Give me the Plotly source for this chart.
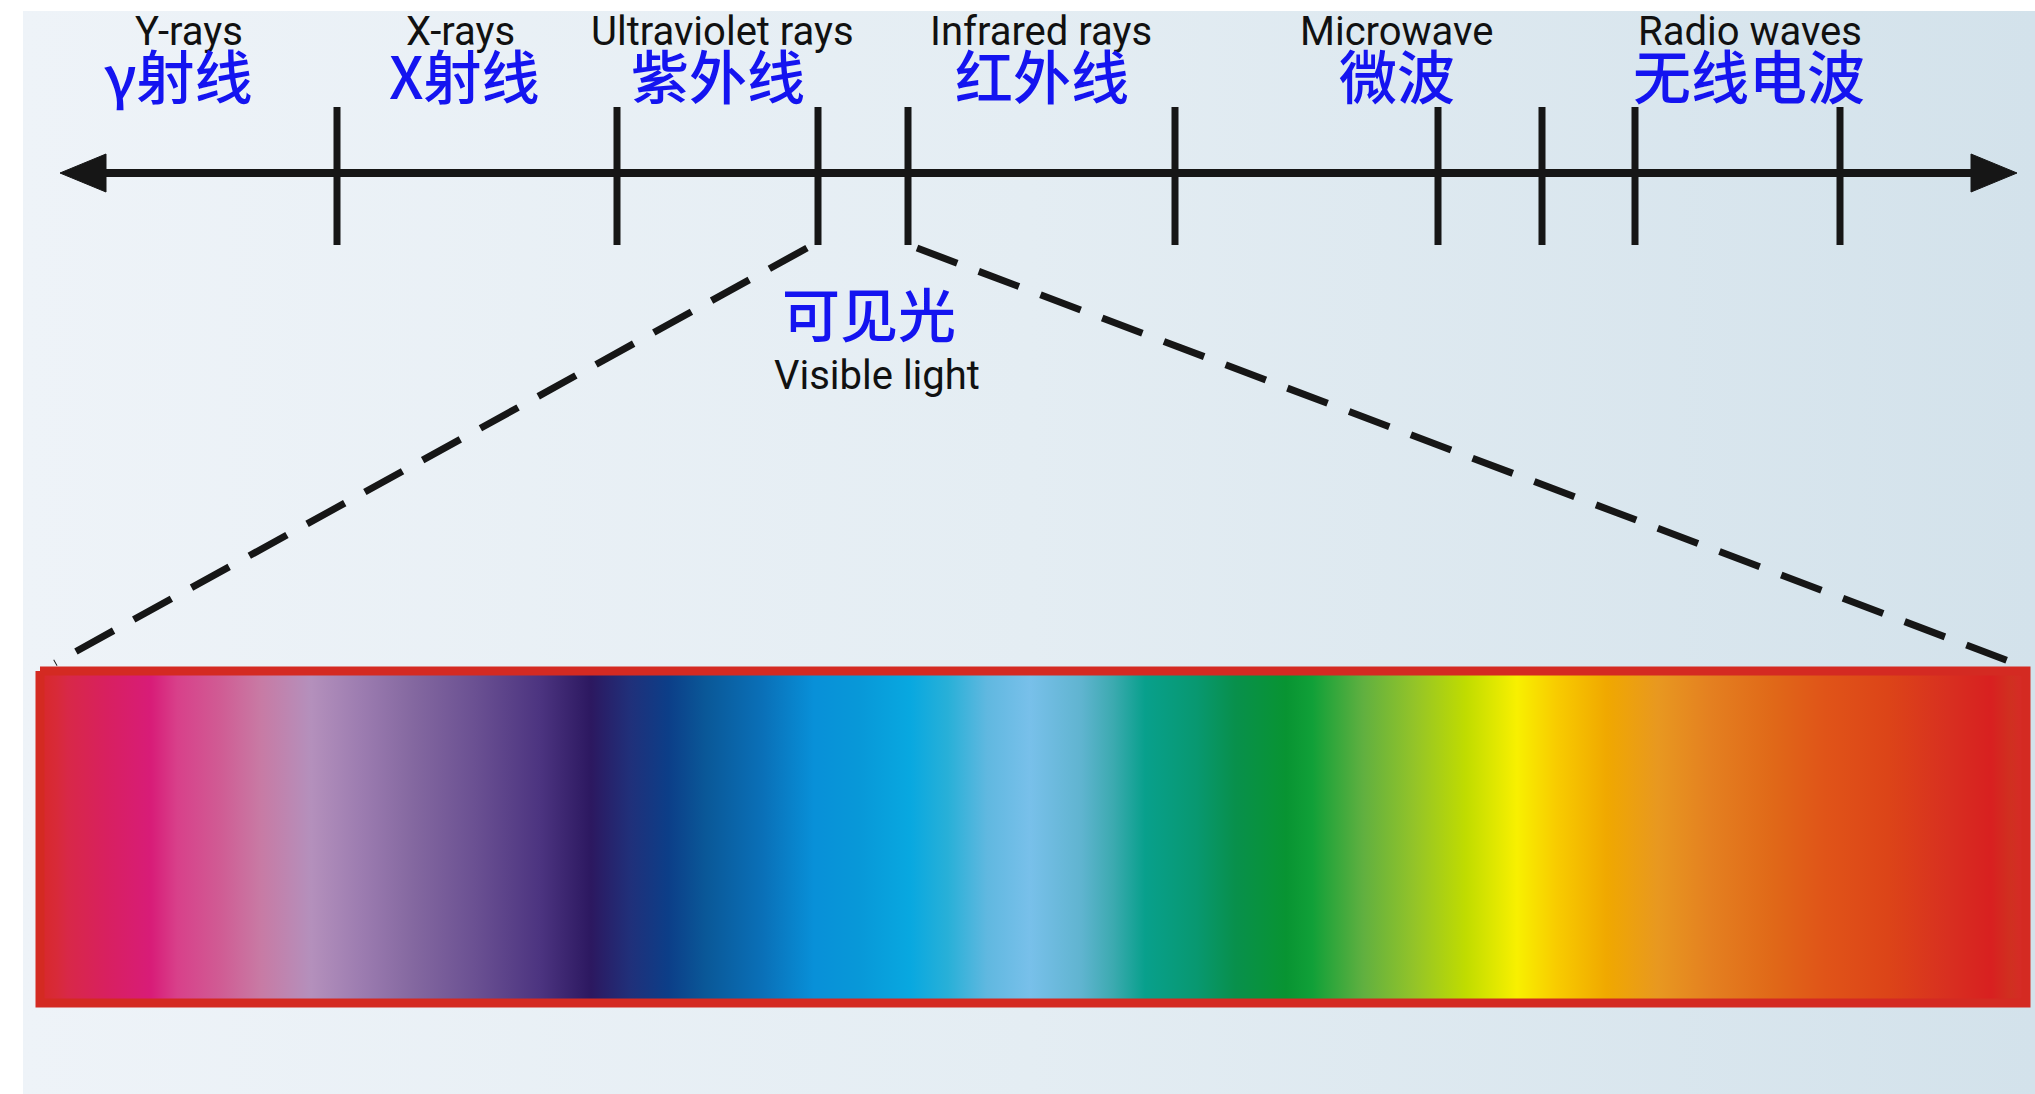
import plotly.graph_objects as go

W, H = 2035, 1094

# ---------------- data ----------------
# background panel (image area) and its light gradient
panel_x = [23, 2035]
panel_y = [11, 1094]
panel_colors = ["#eef3f8", "#e4edf3", "#d3e2eb"]

# main wavelength axis
axis_y = 173
axis_x = [60, 2017]
head_len = 46
head_half = 19

# region boundary ticks along the axis
tick_x = [337, 617, 818, 908, 1175, 1438, 1542, 1635, 1840]
tick_span = [107, 245]

# category labels
en_labels = ["Y-rays", "X-rays", "Ultraviolet rays", "Infrared rays", "Microwave", "Radio waves"]
en_x = [189, 460, 722, 1041, 1396, 1750]
zh_labels = ["γ射线", "X射线", "紫外线", "红外线", "微波", "无线电波"]
zh_x = [178, 464, 718, 1042, 1397, 1749]

visible_zh = "可见光"
visible_en = "Visible light"
visible_x = 872

# dashed zoom lines from the visible-light ticks to the spectrum corners
zoom_from_x = [807, 917]
zoom_from_y = 248
zoom_to_x = [55, 2014]
zoom_to_y = 663

# spectrum bar
bar_x = [40, 2026]
bar_y = [671, 1003]
spectrum_pos = [40, 56, 68, 107, 151, 177, 221, 260, 311, 362, 413, 476, 540, 591,
                630, 668, 706, 763, 814, 859, 910, 948, 987, 1030, 1081, 1113, 1145,
                1197, 1235, 1286, 1312, 1363, 1415, 1466, 1517, 1556, 1607, 1658,
                1710, 1774, 1825, 1889, 1947, 1991, 2011, 2026]
spectrum_colors = ["#d8282a", "#d82a38", "#d82848", "#d82060", "#d81c78", "#d8408a",
                   "#d05c94", "#c87aa4", "#b490bc", "#9c7cb0", "#8468a0", "#6a5092",
                   "#4c3480", "#2c1860", "#20307a", "#0c3e88", "#0a5898", "#0a70b8",
                   "#0890d8", "#0898d8", "#08a8e0", "#28b0d8", "#60b8e0", "#78c0ea",
                   "#60b4d0", "#3caab0", "#08a08c", "#089870", "#08904c", "#089432",
                   "#10a038", "#60b040", "#94c428", "#c0dc00", "#f8f000", "#f8cc00",
                   "#f0a800", "#e89820", "#e48020", "#e06818", "#e05418", "#dc4418",
                   "#d83020", "#d82020", "#d03020", "#d82828"]

# ---------------- styles ----------------
INK = "#161616"
BLUE = "#1414f0"
RED_EDGE = "#d42a22"
EN_FONT = dict(family="Roboto, Liberation Sans, sans-serif", size=40, color="#111111")
ZH_FONT = dict(family="Noto Sans CJK SC", size=58, color=BLUE, weight=500)


def norm_scale(pos, cols):
    lo, hi = pos[0], pos[-1]
    return [[(p - lo) / (hi - lo), c] for p, c in zip(pos, cols)]


fig = go.Figure()

# background panel
n = len(panel_colors)
fig.add_trace(go.Scatter(
    x=[panel_x[0], panel_x[1], panel_x[1], panel_x[0], panel_x[0]],
    y=[panel_y[0], panel_y[0], panel_y[1], panel_y[1], panel_y[0]],
    mode="lines", line=dict(width=0), fill="toself",
    fillgradient=dict(type="horizontal",
                      colorscale=[[i / (n - 1), c] for i, c in enumerate(panel_colors)]),
    hoverinfo="skip", showlegend=False))

# spectrum bar with gradient fill
fig.add_trace(go.Scatter(
    x=[bar_x[0], bar_x[1], bar_x[1], bar_x[0], bar_x[0]],
    y=[bar_y[0], bar_y[0], bar_y[1], bar_y[1], bar_y[0]],
    mode="lines", line=dict(width=9, color=RED_EDGE), fill="toself",
    fillgradient=dict(type="horizontal", colorscale=norm_scale(spectrum_pos, spectrum_colors)),
    hoverinfo="skip", showlegend=False))

# dashed zoom lines
for fx, tx in zip(zoom_from_x, zoom_to_x):
    fig.add_trace(go.Scatter(
        x=[fx, tx], y=[zoom_from_y, zoom_to_y], mode="lines",
        line=dict(color=INK, width=7, dash="43px,23px"),
        hoverinfo="skip", showlegend=False))

# axis line
fig.add_trace(go.Scatter(
    x=[axis_x[0] + head_len - 4, axis_x[1] - head_len + 4], y=[axis_y, axis_y],
    mode="lines", line=dict(color=INK, width=8),
    hoverinfo="skip", showlegend=False))

# arrow heads
for tip, sgn in ((axis_x[0], 1), (axis_x[1], -1)):
    base = tip + sgn * head_len
    fig.add_trace(go.Scatter(
        x=[tip, base, base, tip], y=[axis_y, axis_y - head_half, axis_y + head_half, axis_y],
        mode="lines", line=dict(color=INK, width=1), fill="toself", fillcolor=INK,
        hoverinfo="skip", showlegend=False))

# ticks
tx, ty = [], []
for x in tick_x:
    tx += [x, x, None]
    ty += [tick_span[0], tick_span[1], None]
fig.add_trace(go.Scatter(x=tx, y=ty, mode="lines", line=dict(color=INK, width=7),
                         hoverinfo="skip", showlegend=False))

# labels
for lab, x in zip(en_labels, en_x):
    fig.add_annotation(x=x, y=31, text=lab, showarrow=False, font=EN_FONT,
                       xanchor="center", yanchor="middle")
for lab, x in zip(zh_labels, zh_x):
    fig.add_annotation(x=x, y=74, text=lab, showarrow=False, font=ZH_FONT,
                       xanchor="center", yanchor="middle")
fig.add_annotation(x=visible_x - 3, y=312, text=visible_zh, showarrow=False,
                   font=ZH_FONT, xanchor="center", yanchor="middle")
fig.add_annotation(x=visible_x + 5, y=375, text=visible_en, showarrow=False,
                   font=EN_FONT, xanchor="center", yanchor="middle")

fig.update_layout(
    width=W, height=H,
    margin=dict(l=0, r=0, t=0, b=0, pad=0),
    paper_bgcolor="#ffffff", plot_bgcolor="#ffffff",
    xaxis=dict(range=[0, W], visible=False, fixedrange=True),
    yaxis=dict(range=[H, 0], visible=False, fixedrange=True),
    showlegend=False,
)

fig.write_html("out.html", config={"displayModeBar": False},
               post_script="document.body.style.margin='0';")
